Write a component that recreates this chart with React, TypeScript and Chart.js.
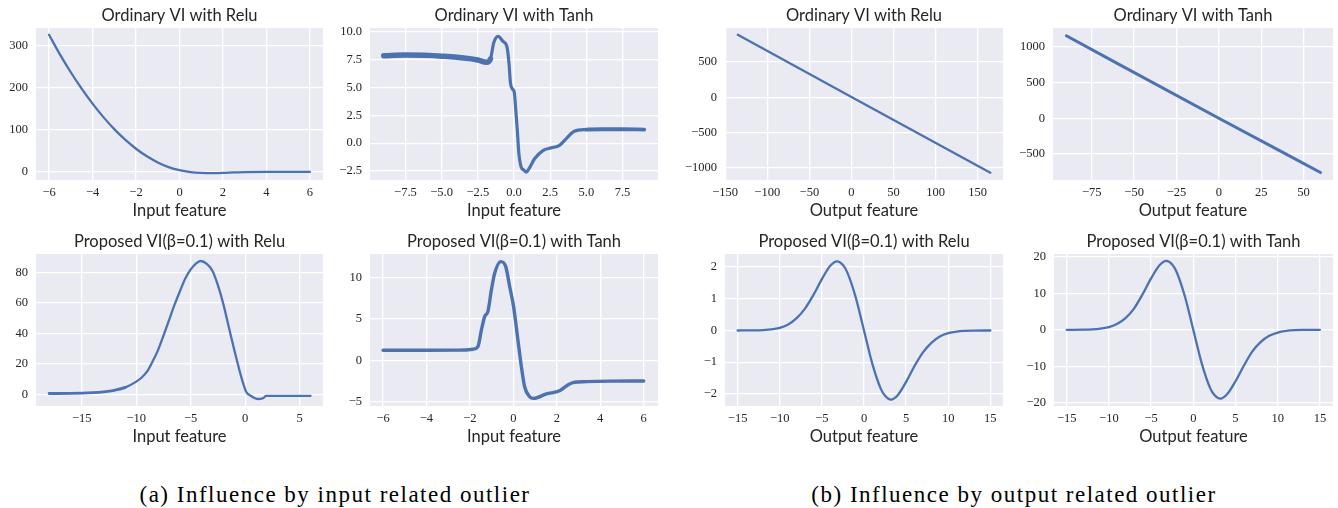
import React, { useEffect, useRef } from "react";
import { Chart, registerables } from "chart.js";

Chart.register(...registerables);

// ---------------- data ----------------
// (1) Ordinary VI with Relu, input feature
const ordReluInX = [-6, -5.5, -5, -4.5, -4, -3.5, -3, -2.5, -2, -1.5, -1, -0.5, 0, 0.5, 1, 1.5, 2, 2.5, 3, 4, 5, 6];
const ordReluInY = [325, 278.5, 236, 197, 161.5, 129.5, 101, 76, 54.5, 36.5, 22, 11, 3.5, -1, -3, -3.5, -3, -1.5, -0.8, -0.5, -0.5, -0.5];
const ordReluInXTicks = [-6, -4, -2, 0, 2, 4, 6];
const ordReluInYTicks = [0, 100, 200, 300];

// (2) Ordinary VI with Tanh, input feature
const ordTanhInX = [-9, -7.5, -5, -2.5, -1.9, -1.63, -1.4, -1.1, -0.76, -0.48, -0.34, -0.25, -0.11, 0.02, 0.11, 0.23, 0.34, 0.5, 0.67, 0.85, 1.03, 1.42, 2.0, 2.57, 3.14, 3.6, 4.17, 4.98, 6.1, 7.5, 9];
const ordTanhInY = [7.85, 7.9, 7.8, 7.46, 7.25, 7.55, 9.0, 9.58, 9.13, 8.6, 7.1, 5.46, 4.87, 4.57, 3.2, 1.13, -0.96, -2.15, -2.39, -2.6, -2.3, -1.4, -0.66, -0.42, -0.2, 0.39, 1.07, 1.22, 1.25, 1.25, 1.22];
const ordTanhInXTicks = [-7.5, -5, -2.5, 0, 2.5, 5, 7.5];
const ordTanhInYTicks = [-2.5, 0, 2.5, 5, 7.5, 10];

// (3) Ordinary VI with Relu, output feature
const ordReluOutX = [-135, 0, 165];
const ordReluOutY = [885, 5, -1066];
const ordReluOutXTicks = [-150, -100, -50, 0, 50, 100, 150];
const ordReluOutYTicks = [-1000, -500, 0, 500];

// (4) Ordinary VI with Tanh, output feature
const ordTanhOutX = [-90, 0, 60];
const ordTanhOutY = [1152, 0, -757];
const ordTanhOutXTicks = [-75, -50, -25, 0, 25, 50];
const ordTanhOutYTicks = [-500, 0, 500, 1000];

// (5) Proposed VI(beta=0.1) with Relu, input feature
const propReluInX = [-18, -16, -14, -13, -12, -11, -10, -9.5, -9, -8.5, -8, -7.5, -7, -6.5, -6, -5.5, -5, -4.5, -4.1, -3.5, -3, -2.5, -2, -1.5, -1, -0.5, -0.2, 0.1, 0.5, 0.9, 1.2, 1.5, 1.75, 1.9, 3, 4, 5, 6];
const propReluInY = [0.5, 0.6, 1.1, 1.6, 2.6, 4.5, 8.3, 11, 15, 21.5, 29, 38.5, 48.5, 58.5, 67.5, 76, 82, 86, 87.5, 85.5, 81, 71.5, 59, 44, 29, 15, 7.5, 1.5, -1.0, -2.6, -3.1, -2.9, -2.0, -1.0, -1.0, -1.0, -1.0, -1.0];
const propReluInXTicks = [-15, -10, -5, 0, 5];
const propReluInYTicks = [0, 20, 40, 60, 80];

// (6) Proposed VI(beta=0.1) with Tanh, input feature
const propTanhInX = [-6, -4, -2.5, -1.86, -1.63, -1.47, -1.32, -1.17, -1.01, -0.86, -0.58, -0.35, -0.17, 0.01, 0.21, 0.37, 0.52, 0.75, 0.93, 1.52, 2.13, 2.44, 2.74, 3.36, 4.5, 6];
const propTanhInY = [1.2, 1.2, 1.22, 1.33, 1.65, 3.66, 5.27, 5.9, 8.5, 10.5, 11.9, 11.3, 8.9, 6.5, 2.45, -0.77, -3.2, -4.4, -4.6, -4.07, -3.67, -3.1, -2.7, -2.58, -2.52, -2.5];
const propTanhInXTicks = [-6, -4, -2, 0, 2, 4, 6];
const propTanhInYTicks = [-5, 0, 5, 10];

// (7) Proposed VI(beta=0.1) with Relu, output feature
const propReluOutX = [-15, -13, -12, -11, -10, -9, -8, -7, -6, -5, -4, -3.2, -2.5, -2, -1, 0, 1, 2, 2.5, 3.2, 4, 5, 6, 7, 8, 9, 10, 11, 12, 13, 15];
const propReluOutY = [0, 0.003, 0.012, 0.034, 0.085, 0.19, 0.39, 0.69, 1.12, 1.62, 2.04, 2.18, 2.06, 1.84, 1.06, 0, -1.06, -1.84, -2.06, -2.18, -2.04, -1.62, -1.12, -0.69, -0.39, -0.19, -0.085, -0.034, -0.012, -0.003, 0];
const propReluOutXTicks = [-15, -10, -5, 0, 5, 10, 15];
const propReluOutYTicks = [-2, -1, 0, 1, 2];

// (8) Proposed VI(beta=0.1) with Tanh, output feature
const propTanhOutX = [-15, -13, -12, -11, -10, -9, -8, -7, -6, -5, -4, -3.2, -2.5, -2, -1, 0, 1, 2, 2.5, 3.2, 4, 5, 6, 7, 8, 9, 10, 11, 12, 13, 15];
const propTanhOutY = [0, 0.03, 0.1, 0.3, 0.75, 1.65, 3.3, 5.9, 9.8, 14.1, 17.7, 18.9, 17.9, 16.0, 9.2, 0, -9.2, -16.0, -17.9, -18.9, -17.7, -14.1, -9.8, -5.9, -3.3, -1.65, -0.75, -0.3, -0.1, -0.03, 0];
const propTanhOutXTicks = [-15, -10, -5, 0, 5, 10, 15];
const propTanhOutYTicks = [-20, -10, 0, 10, 20];

const captionA = "(a) Influence by input related outlier";
const captionB = "(b) Influence by output related outlier";

// ---------------- styling ----------------
const LINE = "#4C72B0";
const BG = "#EAEAF2";
const TXT = "#262626";
const SANS = "Lato, 'DejaVu Sans', sans-serif";
const SERIF = "'Liberation Serif', 'DejaVu Serif', serif";

type Panel = {
  title: string;
  xTitle: string;
  xs: number[];
  ys: number[];
  xTicks: number[];
  yTicks: number[];
  xRange: [number, number];
  yRange: [number, number];
  xDec: number;
  yDec: number;
  box: [number, number, number, number];
  lw: (x: number) => number;
};

const thin = () => 2.3;

const panels: Panel[] = [
  {
    title: "Ordinary VI with Relu", xTitle: "Input feature",
    xs: ordReluInX, ys: ordReluInY, xTicks: ordReluInXTicks, yTicks: ordReluInYTicks,
    xRange: [-6.6, 6.6], yRange: [-19.7, 341], xDec: 0, yDec: 0,
    box: [36, 28, 323, 180], lw: thin,
  },
  {
    title: "Ordinary VI with Tanh", xTitle: "Input feature",
    xs: ordTanhInX, ys: ordTanhInY, xTicks: ordTanhInXTicks, yTicks: ordTanhInYTicks,
    xRange: [-9.95, 9.95], yRange: [-3.3, 10.33], xDec: 1, yDec: 1,
    box: [370, 28, 658, 180], lw: (x) => (x < -1.75 ? 5.5 : x > 4.3 ? 3.8 : 3.2),
  },
  {
    title: "Ordinary VI with Relu", xTitle: "Output feature",
    xs: ordReluOutX, ys: ordReluOutY, xTicks: ordReluOutXTicks, yTicks: ordReluOutYTicks,
    xRange: [-150.2, 180], yRange: [-1170, 981], xDec: 0, yDec: 0,
    box: [725, 28, 1003, 180], lw: thin,
  },
  {
    title: "Ordinary VI with Tanh", xTitle: "Output feature",
    xs: ordTanhOutX, ys: ordTanhOutY, xTicks: ordTanhOutXTicks, yTicks: ordTanhOutYTicks,
    xRange: [-97.9, 67.4], yRange: [-862, 1261], xDec: 0, yDec: 0,
    box: [1053, 28, 1333, 180], lw: () => 3,
  },
  {
    title: "Proposed VI(β=0.1) with Relu", xTitle: "Input feature",
    xs: propReluInX, ys: propReluInY, xTicks: propReluInXTicks, yTicks: propReluInYTicks,
    xRange: [-19.2, 7.14], yRange: [-7.7, 92.1], xDec: 0, yDec: 0,
    box: [36, 254, 323, 406], lw: (x) => (x < -11 ? 2.8 : 2.3),
  },
  {
    title: "Proposed VI(β=0.1) with Tanh", xTitle: "Input feature",
    xs: propTanhInX, ys: propTanhInY, xTicks: propTanhInXTicks, yTicks: propTanhInYTicks,
    xRange: [-6.6, 6.66], yRange: [-5.52, 12.82], xDec: 0, yDec: 0,
    box: [370, 254, 658, 406], lw: () => 3.4,
  },
  {
    title: "Proposed VI(β=0.1) with Relu", xTitle: "Output feature",
    xs: propReluOutX, ys: propReluOutY, xTicks: propReluOutXTicks, yTicks: propReluOutYTicks,
    xRange: [-16.5, 16.5], yRange: [-2.38, 2.41], xDec: 0, yDec: 0,
    box: [725, 254, 1003, 406], lw: thin,
  },
  {
    title: "Proposed VI(β=0.1) with Tanh", xTitle: "Output feature",
    xs: propTanhOutX, ys: propTanhOutY, xTicks: propTanhOutXTicks, yTicks: propTanhOutYTicks,
    xRange: [-16.5, 16.55], yRange: [-20.9, 20.8], xDec: 0, yDec: 0,
    box: [1054, 254, 1333, 406], lw: thin,
  },
];

const fmt = (v: number, dec: number) => (v < 0 ? "\u2212" : "") + Math.abs(v).toFixed(dec);

const bgPlugin = {
  id: "plotBg",
  beforeDraw(chart: any) {
    const { ctx, chartArea: a } = chart;
    ctx.save();
    ctx.fillStyle = BG;
    ctx.fillRect(a.left, a.top, a.right - a.left, a.bottom - a.top);
    ctx.restore();
  },
};

const YW = 56;
const TH = 28;
const XH = 44;

function PanelChart({ p }: { p: Panel }) {
  const ref = useRef<HTMLCanvasElement>(null);
  const [l, t, r, b] = p.box;
  const PR = r > 1300 ? 4 : 12;
  const cw = YW + (r - l) + PR;
  const ch = TH + (b - t) + XH;

  useEffect(() => {
    const grid = { color: "#ffffff", lineWidth: 1.3, drawTicks: false };
    const chart = new Chart(ref.current as HTMLCanvasElement, {
      type: "line",
      data: {
        datasets: [
          {
            data: p.xs.map((x, i) => ({ x, y: p.ys[i] })),
            borderColor: LINE,
            borderWidth: 2.3,
            pointRadius: 0,
            fill: false,
            cubicInterpolationMode: "monotone",
            borderCapStyle: "round",
            borderJoinStyle: "round",
            segment: { borderWidth: (ctx: any) => p.lw(ctx.p0.parsed.x) },
          } as any,
        ],
      },
      options: {
        responsive: false,
        animation: false,
        events: [],
        layout: { padding: { left: 0, right: PR, top: 0, bottom: 0 } },
        plugins: {
          legend: { display: false },
          tooltip: { enabled: false },
          title: {
            display: true,
            text: p.title,
            color: TXT,
            fullSize: false,
            font: { family: SANS, size: 16.5, weight: "normal", lineHeight: 1.2 },
            padding: { top: 6.2, bottom: 2 },
          },
        },
        scales: {
          x: {
            type: "linear",
            min: p.xRange[0],
            max: p.xRange[1],
            afterBuildTicks: (s: any) => {
              s.ticks = p.xTicks.map((v) => ({ value: v }));
            },
            afterFit: (s: any) => {
              s.height = XH;
              s.paddingLeft = 0;
              s.paddingRight = 0;
            },
            grid,
            border: { display: false },
            ticks: {
              color: TXT,
              padding: 5,
              maxRotation: 0,
              autoSkip: false,
              font: { family: SERIF, size: 12.5 },
              callback: (v: any) => fmt(Number(v), p.xDec),
            },
            title: {
              display: true,
              text: p.xTitle,
              color: TXT,
              font: { family: SANS, size: 16.5, lineHeight: 1.2 },
              padding: { top: 0, bottom: 3.6 },
            },
          },
          y: {
            type: "linear",
            min: p.yRange[0],
            max: p.yRange[1],
            afterBuildTicks: (s: any) => {
              s.ticks = p.yTicks.map((v) => ({ value: v }));
            },
            afterFit: (s: any) => {
              s.width = YW;
            },
            grid,
            border: { display: false },
            ticks: {
              color: TXT,
              padding: 8,
              autoSkip: false,
              font: { family: SERIF, size: 12.5 },
              callback: (v: any) => fmt(Number(v), p.yDec),
            },
          },
        },
      } as any,
      plugins: [bgPlugin],
    });
    return () => chart.destroy();
  }, []);

  return (
    <canvas
      ref={ref}
      width={cw}
      height={ch}
      style={{ position: "absolute", left: l - YW, top: t - TH, width: cw, height: ch }}
    />
  );
}

const captionStyle: React.CSSProperties = {
  position: "absolute",
  top: 482,
  width: 600,
  textAlign: "center",
  fontFamily: SERIF,
  fontSize: 23,
  lineHeight: "26px",
  letterSpacing: "1.5px",
  color: "#000",
  whiteSpace: "nowrap",
};

export default function App() {
  return (
    <div
      style={{
        position: "absolute",
        left: 0,
        top: 0,
        width: 1338,
        height: 508,
        overflow: "hidden",
        background: "#fff",
      }}
    >
      {panels.map((p, i) => (
        <PanelChart key={i} p={p} />
      ))}
      <div style={{ ...captionStyle, left: 335 - 300 }}>{captionA}</div>
      <div style={{ ...captionStyle, left: 1014 - 300 }}>{captionB}</div>
    </div>
  );
}
